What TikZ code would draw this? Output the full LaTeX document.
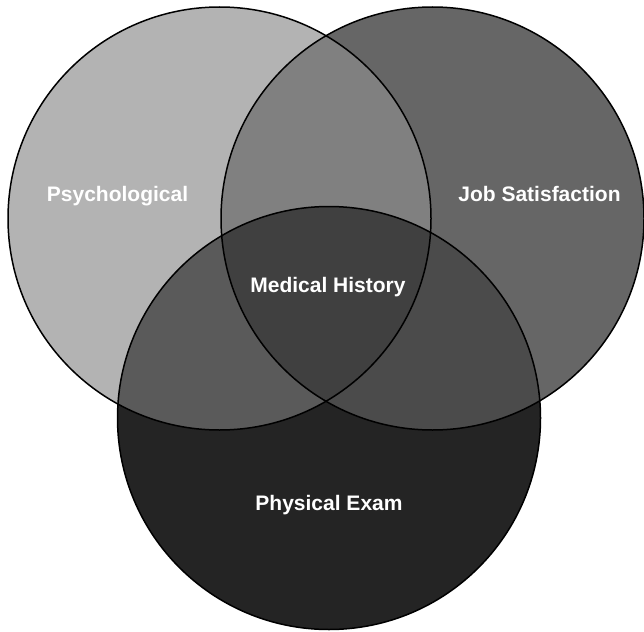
\documentclass[tikz,border=0pt]{standalone}
\usepackage{fontspec}
\setmainfont{Liberation Sans}
\begin{document}
\begin{tikzpicture}[x=1pt,y=-1pt,
  lbl/.style={text=white,font=\bfseries\fontsize{21}{25}\selectfont,anchor=base,inner sep=0pt},
  rim/.style={draw=black,line width=1.5pt}]
\useasboundingbox (0,0) rectangle (644,631);
\coordinate (L) at (219.5,218.5);
\coordinate (R) at (432.5,218.5);
\coordinate (B) at (329,418);
\def\rr{211.5pt}
\definecolor{cL}{HTML}{B3B3B3}
\definecolor{cR}{HTML}{666666}
\definecolor{cB}{HTML}{242424}
\definecolor{cLR}{HTML}{808080}
\definecolor{cLB}{HTML}{5A5A5A}
\definecolor{cRB}{HTML}{4B4B4B}
\definecolor{cLRB}{HTML}{404040}
\fill[cL] (L) circle[radius=\rr];
\fill[cR] (R) circle[radius=\rr];
\fill[cB] (B) circle[radius=\rr];
\begin{scope}
  \clip (R) circle[radius=\rr];
  \fill[cRB] (B) circle[radius=\rr];
\end{scope}
\begin{scope}
  \clip (L) circle[radius=\rr];
  \fill[cLR] (R) circle[radius=\rr];
  \fill[cLB] (B) circle[radius=\rr];
  \clip (R) circle[radius=\rr];
  \fill[cLRB] (B) circle[radius=\rr];
\end{scope}
\draw[rim] (L) circle[radius=\rr];
\draw[rim] (R) circle[radius=\rr];
\draw[rim] (B) circle[radius=\rr];
\node[lbl] (psy) at (117.5,201.5) {Psychological};
\node[lbl] (job) at (539.5,201.5) {Job Satisfaction};
\node[lbl] (med) at (328,292.5) {Medical History};
\node[lbl] (phy) at (329,510.5) {Physical Exam};
\end{tikzpicture}
\end{document}
